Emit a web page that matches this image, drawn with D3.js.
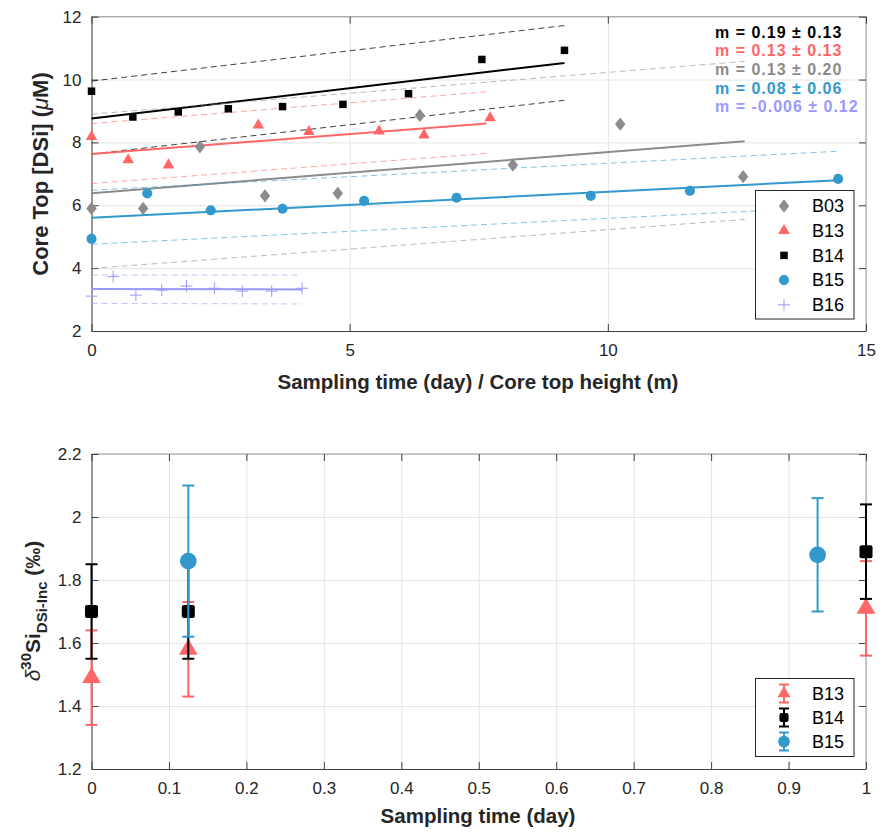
<!DOCTYPE html>
<html>
<head>
<meta charset="utf-8">
<script src="https://cdn.jsdelivr.net/npm/d3@7"></script>
<style>
  body { margin: 0; background: #fff; }
  svg { font-family: "Liberation Sans", Arial, Helvetica, sans-serif; }
</style>
</head>
<body>
<div id="chart"></div>
<script>
// ---- top panel: core top DSi ----
const b03X = [0, 1.0, 2.1, 3.36, 4.77, 6.36, 8.16, 10.24, 12.62];
const b03Y = [5.9, 5.9, 7.86, 6.3, 6.38, 8.86, 7.28, 8.58, 6.91];
const b13X = [0, 0.71, 1.49, 3.23, 4.21, 5.57, 6.44, 7.72];
const b13Y = [8.18, 7.44, 7.28, 8.55, 8.34, 8.36, 8.23, 8.78];
const b14X = [0, 0.8, 1.68, 2.65, 3.7, 4.87, 6.14, 7.56, 9.16];
const b14Y = [9.63, 8.81, 8.97, 9.07, 9.14, 9.21, 9.55, 10.64, 10.93];
const b15X = [0, 1.08, 2.31, 3.7, 5.28, 7.07, 9.67, 11.59, 14.46];
const b15Y = [4.93, 6.38, 5.84, 5.89, 6.14, 6.24, 6.3, 6.46, 6.84];
const b16X = [0, 0.42, 0.86, 1.36, 1.84, 2.38, 2.92, 3.49, 4.08];
const b16Y = [3.11, 3.73, 3.14, 3.3, 3.43, 3.36, 3.27, 3.27, 3.36];

// fitted lines, order matches slope labels
const fitNames = ['B14', 'B13', 'B03', 'B15', 'B16'];
const fitXStart = [0, 0, 0, 0, 0];
const fitXEnd = [9.16, 7.65, 12.65, 14.46, 4.08];
const fitYStart = [8.76, 7.63, 6.38, 5.6, 3.34];
const fitYEnd = [10.53, 8.6, 8.04, 6.8, 3.32];
const upYStart = [9.95, 8.6, 8.9, 6.48, 3.78];
const upYEnd = [11.72, 9.61, 10.58, 7.72, 3.78];
const loYStart = [7.63, 6.69, 3.99, 4.76, 2.88];
const loYEnd = [9.34, 7.65, 5.55, 5.95, 2.86];
const slopeLabels = ['m = 0.19 ± 0.13', 'm = 0.13 ± 0.13', 'm = 0.13 ± 0.20', 'm = 0.08 ± 0.06', 'm = -0.006 ± 0.12'];

const topXTicks = [0, 5, 10, 15];
const topYTicks = [2, 4, 6, 8, 10, 12];

// ---- bottom panel: delta30Si ----
const incB13X = [0, 0.125, 1];
const incB13Y = [1.49, 1.58, 1.71];
const incB13Err = [0.15, 0.15, 0.15];
const incB14X = [0, 0.125, 1];
const incB14Y = [1.70, 1.70, 1.89];
const incB14Err = [0.15, 0.15, 0.15];
const incB15X = [0.125, 0.9375];
const incB15Y = [1.86, 1.88];
const incB15Err = [0.24, 0.18];

const botXTicks = [0, 0.1, 0.2, 0.3, 0.4, 0.5, 0.6, 0.7, 0.8, 0.9, 1];
const botYTicks = [1.2, 1.4, 1.6, 1.8, 2, 2.2];

const colors = { B03: '#8c8c8c', B13: '#ff6666', B14: '#000000', B15: '#3399cc', B16: '#9999ff' };

let width = 882, height = 833;

let svg = d3.select('#chart')
  .append('svg')
  .attr('width', width)
  .attr('height', height);

const fmt = d => String(+(+d).toFixed(2));

// diamond a bit taller than wide, like matlab's
const diamond = {
  draw(ctx, size) {
    let w = Math.sqrt(size) * 0.55, h = Math.sqrt(size) * 0.7;
    ctx.moveTo(0, -h); ctx.lineTo(w, 0); ctx.lineTo(0, h); ctx.lineTo(-w, 0); ctx.closePath();
  }
};
const plus = {
  draw(ctx, size) {
    let r = Math.sqrt(size) / 2;
    ctx.moveTo(-r, 0); ctx.lineTo(r, 0); ctx.moveTo(0, -r); ctx.lineTo(0, r);
  }
};

function frame(x, y, xTicks, yTicks) {
  let [l, r] = x.range(), [b, t] = y.range();
  let g = svg.append('g');

  // grid
  g.append('g')
    .attr('transform', `translate(0,${b})`)
    .call(d3.axisBottom(x).tickValues(xTicks).tickSize(-(b - t)).tickFormat(''))
    .call(s => s.select('.domain').remove())
    .selectAll('line').attr('stroke', '#e3e3e3');
  g.append('g')
    .attr('transform', `translate(${l},0)`)
    .call(d3.axisLeft(y).tickValues(yTicks).tickSize(-(r - l)).tickFormat(''))
    .call(s => s.select('.domain').remove())
    .selectAll('line').attr('stroke', '#e3e3e3');

  // box
  g.append('line').attr('x1', l).attr('x2', r).attr('y1', t).attr('y2', t).attr('stroke', '#999');
  g.append('line').attr('x1', r).attr('x2', r).attr('y1', t).attr('y2', b).attr('stroke', '#999');

  // ticks inside, labels outside
  let ax = g.append('g')
    .attr('transform', `translate(0,${b})`)
    .call(d3.axisBottom(x).tickValues(xTicks).tickSizeInner(-7).tickSizeOuter(0).tickPadding(13).tickFormat(fmt));
  let ay = g.append('g')
    .attr('transform', `translate(${l},0)`)
    .call(d3.axisLeft(y).tickValues(yTicks).tickSizeInner(-7).tickSizeOuter(0).tickPadding(10).tickFormat(fmt));
  g.append('g')
    .attr('transform', `translate(0,${t})`)
    .call(d3.axisTop(x).tickValues(xTicks).tickSizeInner(-7).tickSizeOuter(0).tickFormat(''))
    .call(s => s.select('.domain').remove());
  g.append('g')
    .attr('transform', `translate(${r},0)`)
    .call(d3.axisRight(y).tickValues(yTicks).tickSizeInner(-7).tickSizeOuter(0).tickFormat(''))
    .call(s => s.select('.domain').remove());

  g.selectAll('.domain').attr('stroke', '#404040');
  g.selectAll('.tick line').filter(function() { return this.getAttribute('stroke') !== '#e3e3e3'; })
    .attr('stroke', '#404040');
  g.selectAll('text')
    .attr('fill', '#262626')
    .style('font-size', '17px')
    .style('font-family', '"Liberation Sans", Arial, sans-serif');
  ax.selectAll('text').attr('dy', '0.71em');
  return g;
}

// ================= top panel =================
let xTop = d3.scaleLinear().domain([0, 15]).range([91.5, 866]);
let yTop = d3.scaleLinear().domain([2, 12]).range([331, 16.7]);
frame(xTop, yTop, topXTicks, topYTicks);

let fits = svg.append('g');
fitNames.forEach(function(name, i) {
  let c = colors[name];
  let seg = (y0, y1) => [[fitXStart[i], y0], [fitXEnd[i], y1]];
  let line = d3.line().x(d => xTop(d[0])).y(d => yTop(d[1]));
  fits.append('path').attr('d', line(seg(upYStart[i], upYEnd[i])))
    .attr('fill', 'none').attr('stroke', c).attr('stroke-opacity', name === 'B14' ? 0.75 : 0.6)
    .attr('stroke-width', 1).attr('stroke-dasharray', '6,4');
  fits.append('path').attr('d', line(seg(loYStart[i], loYEnd[i])))
    .attr('fill', 'none').attr('stroke', c).attr('stroke-opacity', name === 'B14' ? 0.75 : 0.6)
    .attr('stroke-width', 1).attr('stroke-dasharray', '6,4');
  fits.append('path').attr('d', line(seg(fitYStart[i], fitYEnd[i])))
    .attr('fill', 'none').attr('stroke', c).attr('stroke-width', 2);
});

let topSeries = [
  { name: 'B03', xs: b03X, ys: b03Y, type: diamond, size: 90 },
  { name: 'B13', xs: b13X, ys: b13Y, type: d3.symbolTriangle, size: 58 },
  { name: 'B14', xs: b14X, ys: b14Y, type: d3.symbolSquare, size: 56 },
  { name: 'B15', xs: b15X, ys: b15Y, type: d3.symbolCircle, size: 80 },
  { name: 'B16', xs: b16X, ys: b16Y, type: plus, size: 140 }
];

topSeries.forEach(function(s) {
  let pts = s.xs.map((x, i) => [x, s.ys[i]]);
  svg.append('g').selectAll('path')
    .data(pts)
    .join('path')
    .attr('transform', d => `translate(${xTop(d[0])},${yTop(d[1])})`)
    .attr('d', d3.symbol().type(s.type).size(s.size))
    .attr('fill', s.name === 'B16' ? 'none' : colors[s.name])
    .attr('stroke', s.name === 'B16' ? colors[s.name] : 'none')
    .attr('stroke-width', 1);
});

// slope labels
svg.append('g').selectAll('text')
  .data(slopeLabels)
  .join('text')
  .attr('x', 715)
  .attr('y', (d, i) => 37.5 + i * 18.7)
  .attr('fill', (d, i) => colors[fitNames[i]])
  .style('font-size', '16px')
  .style('letter-spacing', '1px')
  .style('font-weight', 'bold')
  .text(d => d);

// legend top
let legTop = svg.append('g');
legTop.append('rect').attr('x', 755.5).attr('y', 190.5).attr('width', 98.5).attr('height', 128.5)
  .attr('fill', '#fff').attr('stroke', '#262626').attr('stroke-width', 1);
topSeries.forEach(function(s, i) {
  let yy = 206 + i * 24.7;
  legTop.append('path')
    .attr('transform', `translate(784,${yy})`)
    .attr('d', d3.symbol().type(s.type).size(s.size))
    .attr('fill', s.name === 'B16' ? 'none' : colors[s.name])
    .attr('stroke', s.name === 'B16' ? colors[s.name] : 'none');
  legTop.append('text').attr('x', 812).attr('y', yy).attr('dy', '0.35em')
    .style('font-size', '18px').attr('fill', '#000').text(s.name);
});

// axis labels top
svg.append('text')
  .attr('x', 478).attr('y', 389)
  .attr('text-anchor', 'middle')
  .style('font-size', '20.5px').style('font-weight', 'bold').attr('fill', '#262626')
  .text('Sampling time (day) / Core top height (m)');

let ylabTop = svg.append('text')
  .attr('transform', 'translate(48,174) rotate(-90)')
  .attr('text-anchor', 'middle')
  .style('font-size', '22px').style('font-weight', 'bold').attr('fill', '#262626');
ylabTop.append('tspan').text('Core Top [DSi] (');
ylabTop.append('tspan').style('font-style', 'italic').style('font-weight', 'normal').text('μ');
ylabTop.append('tspan').text('M)');

// ================= bottom panel =================
let xBot = d3.scaleLinear().domain([0, 1]).range([91.5, 866]);
let yBot = d3.scaleLinear().domain([1.2, 2.2]).range([769, 454]);
frame(xBot, yBot, botXTicks, botYTicks);

let botSeries = [
  { name: 'B13', xs: incB13X, ys: incB13Y, err: incB13Err, type: d3.symbolTriangle, size: 150 },
  { name: 'B14', xs: incB14X, ys: incB14Y, err: incB14Err, type: 'square', size: 13 },
  { name: 'B15', xs: incB15X, ys: incB15Y, err: incB15Err, type: d3.symbolCircle, size: 220 }
];

function marker(g, s, cx, cy, scale) {
  if (s.type === 'square') {
    let a = s.size * scale;
    g.append('rect').attr('x', cx - a / 2).attr('y', cy - a / 2).attr('width', a).attr('height', a)
      .attr('rx', 2).attr('fill', colors[s.name]);
  } else {
    g.append('path').attr('transform', `translate(${cx},${cy})`)
      .attr('d', d3.symbol().type(s.type).size(s.size * scale * scale))
      .attr('fill', colors[s.name]);
  }
}

botSeries.forEach(function(s) {
  let g = svg.append('g');
  s.xs.forEach(function(x, i) {
    let cx = xBot(x), yHi = yBot(s.ys[i] + s.err[i]), yLo = yBot(s.ys[i] - s.err[i]);
    g.append('line').attr('x1', cx).attr('x2', cx).attr('y1', yHi).attr('y2', yLo)
      .attr('stroke', colors[s.name]).attr('stroke-width', 2);
    [yHi, yLo].forEach(yy => g.append('line').attr('x1', cx - 6).attr('x2', cx + 6).attr('y1', yy).attr('y2', yy)
      .attr('stroke', colors[s.name]).attr('stroke-width', 2));
    marker(g, s, cx, yBot(s.ys[i]), 1);
  });
});

// legend bottom
let legBot = svg.append('g');
legBot.append('rect').attr('x', 755.5).attr('y', 678.5).attr('width', 98.5).attr('height', 78)
  .attr('fill', '#fff').attr('stroke', '#262626').attr('stroke-width', 1);
botSeries.forEach(function(s, i) {
  let yy = 693.5 + i * 24;
  legBot.append('line').attr('x1', 784).attr('x2', 784).attr('y1', yy - 9).attr('y2', yy + 9)
    .attr('stroke', colors[s.name]).attr('stroke-width', 2);
  [yy - 9, yy + 9].forEach(v => legBot.append('line').attr('x1', 779).attr('x2', 789).attr('y1', v).attr('y2', v)
    .attr('stroke', colors[s.name]).attr('stroke-width', 2));
  marker(legBot, s, 784, yy, 0.7);
  legBot.append('text').attr('x', 812).attr('y', yy).attr('dy', '0.35em')
    .style('font-size', '18px').attr('fill', '#000').text(s.name);
});

svg.append('text')
  .attr('x', 478).attr('y', 823)
  .attr('text-anchor', 'middle')
  .style('font-size', '20.5px').style('font-weight', 'bold').attr('fill', '#262626')
  .text('Sampling time (day)');

let ylabBot = svg.append('text')
  .attr('transform', 'translate(40,611) rotate(-90)')
  .attr('text-anchor', 'middle')
  .style('font-size', '21px').style('font-weight', 'bold').attr('fill', '#262626');
ylabBot.append('tspan').style('font-style', 'italic').style('font-weight', 'normal').text('δ');
ylabBot.append('tspan').attr('dy', -9).style('font-size', '15px').text('30');
ylabBot.append('tspan').attr('dy', 9).text('Si');
ylabBot.append('tspan').attr('dy', 7).style('font-size', '15px').text('DSi-Inc');
ylabBot.append('tspan').attr('dy', -7).text(' (‰)');
</script>
</body>
</html>
